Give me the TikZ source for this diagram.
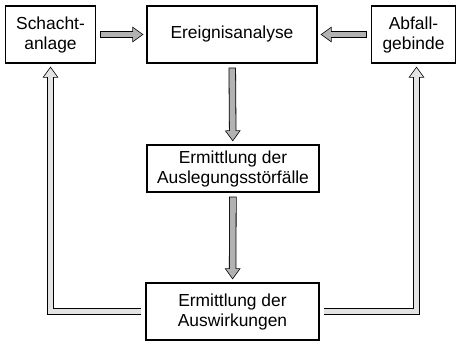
\documentclass[tikz,border=0pt]{standalone}
\usepackage{fontspec}
\setmainfont{Liberation Sans}
\usetikzlibrary{arrows.meta}
\begin{document}
\begin{tikzpicture}[x=1pt,y=-1pt,
    box/.style={draw,line width=1.1pt,align=center,inner sep=0pt,
      font=\fontsize{17.4}{20}\selectfont},
    fat/.style={line width=7.4pt,line join=miter,
      shorten <=4pt,shorten >=3pt,-{Triangle[length=11pt,width=15pt]},
      postaction={draw=#1,line width=5.8pt,shorten <=4.8pt,shorten >=4.3pt,
        -{Triangle[length=9pt,width=12.2pt]}}},
    fatdark/.style={fat=gray!60},
    fatlight/.style={fat=gray!22}]
  \useasboundingbox (0,0) rectangle (457,343);
  \node[box,minimum width=90pt,minimum height=57pt] (schacht) at (50.5,34.5) {Schacht-\\anlage};
  \node[box,minimum width=170pt,minimum height=57pt] (ereig) at (232,34.5) {Ereignisanalyse};
  \node[box,minimum width=84pt,minimum height=57pt] (abfall) at (413.5,34.5) {Abfall-\\gebinde};
  \node[box,minimum width=172pt,minimum height=47pt] (stoer) at (233,168.5) {Ermittlung der\\Auslegungsstörfälle};
  \node[box,minimum width=173pt,minimum height=57pt] (ausw) at (232.5,311.5) {Ermittlung der\\Auswirkungen};
  \draw[fatdark] (schacht) -- (ereig);
  \draw[fatdark] (abfall) -- (ereig);
  \draw[fatdark] (ereig) -- (stoer);
  \draw[fatdark] (stoer) -- (ausw);
  \draw[fatlight] (ausw.west) -| (schacht.south);
  \draw[fatlight] (ausw.east) -| ([xshift=3pt]abfall.south);
\end{tikzpicture}
\end{document}
